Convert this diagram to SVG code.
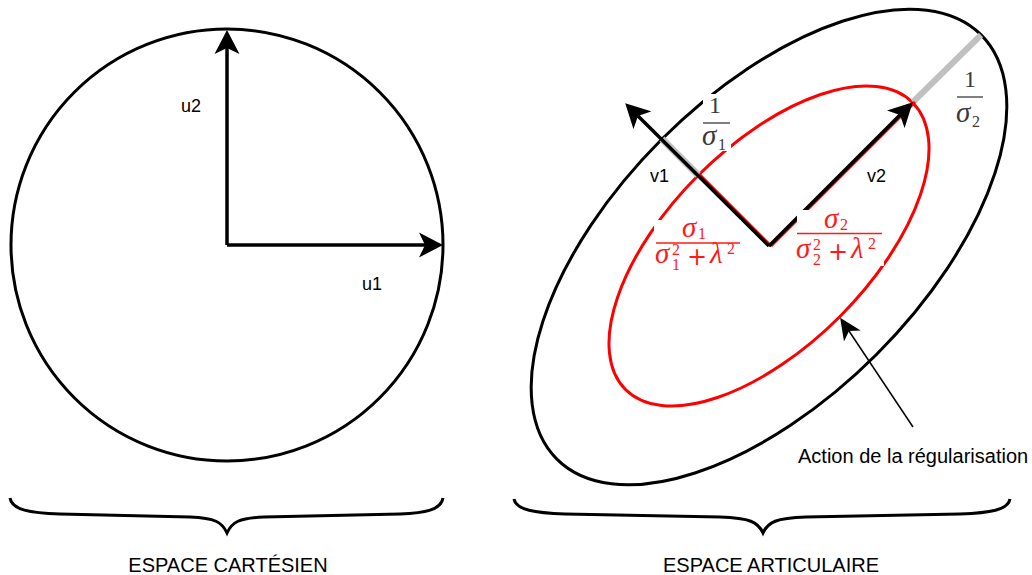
<svg xmlns="http://www.w3.org/2000/svg" width="1032" height="575" viewBox="0 0 1032 575">
<style>
.lbl{font-family:"Liberation Sans",Arial,sans-serif;font-size:18px;fill:#000}
.cap{font-family:"Liberation Sans",Arial,sans-serif;font-size:20px;fill:#000}
.m{font-family:"Liberation Serif","DejaVu Serif",serif;font-size:24px}
.mi{font-style:italic;font-size:29px}
.s{font-size:16px}
.p{font-family:"DejaVu Sans","Liberation Sans",sans-serif;font-size:24px}
.g{fill:#3a3a3a}
.r{fill:#ff1a1a}
.shape{fill:none;stroke-width:3}
.vec{stroke:#000;stroke-width:3.5;fill:none}
</style>
<defs>
<marker id="ah" viewBox="0 -13 24 26" refX="6" refY="0" markerWidth="24" markerHeight="26" markerUnits="userSpaceOnUse" orient="auto">
<path d="M0,-12.5 L24,0 L0,12.5 L6,0 Z" fill="#000"/>
</marker>
<marker id="ahs" viewBox="0 -11 23 22" refX="6" refY="0" markerWidth="23" markerHeight="22" markerUnits="userSpaceOnUse" orient="auto">
<path d="M0,-10 L22,0 L0,10 L6,0 Z" fill="#000"/>
</marker>
</defs>
<rect width="1032" height="575" fill="#fff"/>

<g id="cartesian-circle">
<circle cx="227" cy="245" r="216" class="shape" stroke="#000"/>
</g>
<g id="outer-ellipse">
<ellipse cx="769" cy="247" rx="300" ry="152" transform="rotate(-45 769 247)" class="shape" stroke="#000"/>
</g>
<g id="reg-ellipse">
<ellipse cx="769" cy="246" rx="203" ry="100" transform="rotate(-45 769 246)" class="shape" stroke="#ff0000"/>
</g>

<g id="connectors">
<line x1="698" y1="175" x2="662" y2="139" stroke="#c0c0c0" stroke-width="7"/>
<line x1="913" y1="102" x2="981" y2="35" stroke="#c0c0c0" stroke-width="6"/>
<line x1="771" y1="246" x2="700" y2="175" stroke="#ff0000" stroke-width="3"/>
<line x1="771" y1="246" x2="915" y2="102" stroke="#ff0000" stroke-width="3"/>
<line x1="227" y1="245" x2="425" y2="245" class="vec" stroke-width="3" marker-end="url(#ah)"/>
<line x1="227" y1="245" x2="227" y2="48" class="vec" stroke-width="3" marker-end="url(#ah)"/>
<line x1="769" y1="246" x2="638" y2="116" class="vec" marker-end="url(#ah)"/>
<line x1="769" y1="246" x2="900" y2="115" class="vec" marker-end="url(#ah)"/>
<line x1="913" y1="427" x2="849" y2="331" stroke="#000" stroke-width="1.5" marker-end="url(#ahs)"/>
</g>

<g id="brace-cartesian">
<path d="M10,498 C12,510 30,513 60,514 L190,517 C215,518 222,522 227,533 C232,522 239,518 264,517 L400,514 C425,513 441,510 443,498" class="shape" stroke="#000"/>
</g>
<g id="brace-articulaire">
<path d="M514,499 C516,510 535,513 565,514 L720,517 C750,518 758,522 763,533 C768,522 776,518 806,517 L960,514 C990,513 1008,510 1010,499" class="shape" stroke="#000"/>
</g>

<g id="label-inv-sigma1">
<rect x="703" y="94" width="28" height="57" fill="#fff"/>
<text x="709" y="113" class="m g" font-size="23">1</text>
<line x1="703" y1="123" x2="730" y2="123" stroke="#3a3a3a" stroke-width="1.3"/>
<text x="702" y="145" class="m g mi">σ</text>
<text x="718" y="150" class="m g s">1</text>
</g>
<g id="label-inv-sigma2">
<rect x="956" y="66" width="30" height="62" fill="#fff"/>
<text x="964" y="87" class="m g" font-size="23">1</text>
<line x1="957" y1="97" x2="983" y2="97" stroke="#3a3a3a" stroke-width="1.3"/>
<text x="956" y="122" class="m g mi">σ</text>
<text x="972" y="127" class="m g s">2</text>
</g>
<g id="label-reg-sigma1">
<rect x="654" y="220" width="87" height="52" fill="#fff"/>
<text x="682" y="237" class="m r mi">σ</text>
<text x="698" y="239" class="m r s">1</text>
<line x1="656" y1="243" x2="740" y2="243" stroke="#ff1a1a" stroke-width="1.3"/>
<text x="655" y="263" class="m r mi">σ</text>
<text x="672" y="255" class="m r s">2</text>
<text x="672" y="270" class="m r s">1</text>
<text x="687" y="265" class="p r">+</text>
<text x="710" y="263" class="m r mi">λ</text>
<text x="727" y="254" class="m r s">2</text>
</g>
<g id="label-reg-sigma2">
<rect x="797" y="210" width="87" height="56" fill="#fff"/>
<text x="824" y="228" class="m r mi">σ</text>
<text x="840" y="230" class="m r s">2</text>
<line x1="797" y1="233.5" x2="882" y2="233.5" stroke="#ff1a1a" stroke-width="1.3"/>
<text x="796" y="258" class="m r mi">σ</text>
<text x="813" y="250" class="m r s">2</text>
<text x="813" y="265" class="m r s">2</text>
<text x="828" y="260" class="p r">+</text>
<text x="851" y="258" class="m r mi">λ</text>
<text x="868" y="249" class="m r s">2</text>
</g>

<g id="labels">
<text x="181" y="112" class="lbl">u2</text>
<text x="362" y="290" class="lbl">u1</text>
<text x="650" y="182" class="lbl">v1</text>
<text x="867" y="182" class="lbl">v2</text>
<text x="798" y="463" class="cap">Action de la régularisation</text>
<text x="228" y="572" class="cap" text-anchor="middle">ESPACE CARTÉSIEN</text>
<text x="771" y="572" class="cap" text-anchor="middle">ESPACE ARTICULAIRE</text>
</g>
</svg>
